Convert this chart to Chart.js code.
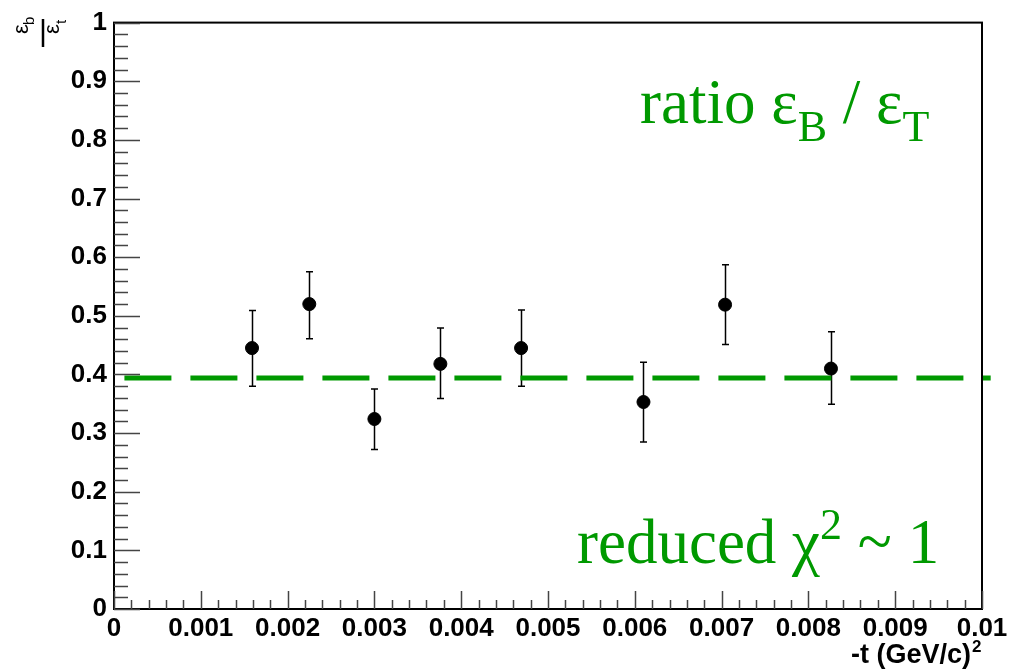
<!DOCTYPE html>
<html>
<head>
<meta charset="utf-8">
<script src="https://cdn.jsdelivr.net/npm/chart.js@4"></script>
<style>
  body { margin: 0; background: #ffffff; }
  #wrap { width: 1018px; height: 672px; position: relative; }
</style>
</head>
<body>
<div id="wrap"><canvas id="ratioChart"></canvas></div>
<script>
// measured points: -t and the efficiency ratio, with lower / upper error bar ends
const tValues = [0.00159, 0.00225, 0.00300, 0.00376, 0.00469, 0.00610, 0.00704, 0.00826];
const ratioValues = [0.445, 0.520, 0.324, 0.418, 0.445, 0.353, 0.519, 0.410];
const errLow = [0.380, 0.461, 0.272, 0.359, 0.380, 0.285, 0.451, 0.349];
const errHigh = [0.509, 0.575, 0.375, 0.479, 0.510, 0.421, 0.587, 0.473];

// constant fit
const fitValue = 0.394;
const fitRange = [0.00012, 0.0101];

const xTickValues = [0, 0.001, 0.002, 0.003, 0.004, 0.005, 0.006, 0.007, 0.008, 0.009, 0.01];
const xTickLabels = ['0', '0.001', '0.002', '0.003', '0.004', '0.005', '0.006', '0.007', '0.008', '0.009', '0.01'];
const yTickValues = [0, 0.1, 0.2, 0.3, 0.4, 0.5, 0.6, 0.7, 0.8, 0.9, 1];
const yTickLabels = ['0', '0.1', '0.2', '0.3', '0.4', '0.5', '0.6', '0.7', '0.8', '0.9', '1'];

const green = 'rgb(0,153,0)';

const points = tValues.map((t, i) => ({ x: t, y: ratioValues[i] }));

// error bars, drawn under the markers
const errorBars = {
  id: 'errorBars',
  beforeDatasetsDraw(chart) {
    const ctx = chart.ctx;
    const xs = chart.scales.x, ys = chart.scales.y;
    ctx.save();
    ctx.strokeStyle = '#000';
    ctx.lineWidth = 1.5;
    for (let i = 0; i < tValues.length; i++) {
      const px = Math.round(xs.getPixelForValue(tValues[i])) + 0.5;
      const lo = ys.getPixelForValue(errLow[i]);
      const hi = ys.getPixelForValue(errHigh[i]);
      ctx.beginPath();
      ctx.moveTo(px, lo); ctx.lineTo(px, hi);
      ctx.moveTo(px - 3.5, lo); ctx.lineTo(px + 3.5, lo);
      ctx.moveTo(px - 3.5, hi); ctx.lineTo(px + 3.5, hi);
      ctx.stroke();
    }
    ctx.restore();
  }
};

// ROOT style frame with inward ticks
const frame = {
  id: 'frame',
  afterDraw(chart) {
    const ctx = chart.ctx;
    const a = chart.chartArea;
    const xs = chart.scales.x, ys = chart.scales.y;
    ctx.save();
    ctx.strokeStyle = '#000';
    ctx.lineWidth = 2;
    ctx.strokeRect(a.left, a.top, a.right - a.left, a.bottom - a.top);

    ctx.strokeStyle = '#444';
    ctx.lineWidth = 1.5;
    ctx.beginPath();
    // y ticks: major every 0.1, minor every 0.02
    for (let k = 0; k <= 50; k++) {
      const py = Math.round(ys.getPixelForValue(k * 0.02)) + 0.5;
      const len = k % 5 === 0 ? 26 : 14;
      ctx.moveTo(a.left, py); ctx.lineTo(a.left + len, py);
    }
    // x ticks: major every 0.001, minor every 0.0002
    for (let k = 0; k <= 50; k++) {
      const px = Math.round(xs.getPixelForValue(k * 0.0002)) + 0.5;
      const len = k % 5 === 0 ? 18 : 9;
      ctx.moveTo(px, a.bottom); ctx.lineTo(px, a.bottom - len);
    }
    ctx.stroke();

    // x axis title
    ctx.fillStyle = '#000';
    ctx.font = 'bold 27px "Liberation Sans", Arial, sans-serif';
    ctx.textAlign = 'right';
    ctx.textBaseline = 'alphabetic';
    ctx.fillText('-t (GeV/c)', 971, 663);
    ctx.font = 'bold 17px "Liberation Sans", Arial, sans-serif';
    ctx.textAlign = 'left';
    ctx.fillText('2', 972, 652);

    // y axis title: rotated fraction eps_b / eps_t
    ctx.translate(43, 33);
    ctx.rotate(-Math.PI / 2);
    ctx.lineWidth = 2.5;
    ctx.strokeStyle = '#000';
    ctx.beginPath();
    ctx.moveTo(-14, 0); ctx.lineTo(14, 0);
    ctx.stroke();
    ctx.textAlign = 'left';
    ctx.font = '22px "Liberation Sans", Arial, sans-serif';
    ctx.fillText('\u03b5', -1, -15);
    ctx.fillText('\u03b5', -1, 16);
    ctx.font = '15px "Liberation Sans", Arial, sans-serif';
    ctx.fillText('b', 8, -9);
    ctx.fillText('t', 9, 23);
    ctx.restore();

    // green annotations
    ctx.save();
    ctx.fillStyle = green;
    ctx.textBaseline = 'alphabetic';
    ctx.textAlign = 'left';
    const big = '63px "Liberation Serif", "Times New Roman", serif';
    const small = '44px "Liberation Serif", "Times New Roman", serif';
    let x = 640;
    const y1 = 123;
    ctx.font = big;
    ctx.fillText('ratio \u03b5', x, y1);
    x += ctx.measureText('ratio \u03b5').width;
    ctx.font = small;
    ctx.fillText('B', x, y1 + 18);
    x += ctx.measureText('B').width;
    ctx.font = big;
    ctx.fillText(' / \u03b5', x, y1);
    x += ctx.measureText(' / \u03b5').width;
    ctx.font = small;
    ctx.fillText('T', x, y1 + 18);

    x = 577;
    const y2 = 563;
    ctx.font = big;
    ctx.fillText('reduced \u03c7', x, y2);
    x += ctx.measureText('reduced \u03c7').width;
    ctx.font = small;
    ctx.fillText('2', x, y2 - 24);
    x += ctx.measureText('2').width;
    ctx.font = big;
    ctx.fillText(' ~ 1', x, y2);
    ctx.restore();
  }
};

const tickFont = { family: '"Liberation Sans", Arial, sans-serif', size: 26, weight: 'bold' };

new Chart(document.getElementById('ratioChart'), {
  type: 'scatter',
  data: {
    datasets: [
      {
        type: 'line',
        label: 'fit',
        data: [{ x: fitRange[0], y: fitValue }, { x: fitRange[1], y: fitValue }],
        borderColor: green,
        borderWidth: 5,
        borderDash: [47, 19],
        borderCapStyle: 'butt',
        pointRadius: 0,
        clip: { left: 0, top: 0, right: 10, bottom: 0 },
        order: 2
      },
      {
        label: 'ratio',
        data: points,
        backgroundColor: '#000',
        borderColor: '#000',
        pointRadius: 6.5,
        pointHoverRadius: 6.5,
        order: 1
      }
    ]
  },
  options: {
    responsive: true,
    maintainAspectRatio: false,
    animation: false,
    events: [],
    layout: { padding: { top: 21, right: 36, left: 0, bottom: 0 } },
    plugins: {
      legend: { display: false },
      tooltip: { enabled: false },
      title: { display: false }
    },
    scales: {
      x: {
        type: 'linear',
        min: 0,
        max: 0.01,
        grid: { display: false, drawTicks: false },
        border: { display: false },
        afterBuildTicks(scale) { scale.ticks = xTickValues.map(v => ({ value: v })); },
        afterFit(scale) { scale.height = 63; },
        ticks: {
          autoSkip: false,
          maxRotation: 0,
          padding: 4,
          color: '#000',
          font: tickFont,
          callback: (v, i) => xTickLabels[i]
        }
      },
      y: {
        type: 'linear',
        min: 0,
        max: 1,
        grid: { display: false, drawTicks: false },
        border: { display: false },
        afterBuildTicks(scale) { scale.ticks = yTickValues.map(v => ({ value: v })); },
        afterFit(scale) { scale.width = 114; },
        ticks: {
          autoSkip: false,
          padding: 7,
          color: '#000',
          font: tickFont,
          callback: (v, i) => yTickLabels[i]
        }
      }
    }
  },
  plugins: [errorBars, frame]
});
</script>
</body>
</html>
